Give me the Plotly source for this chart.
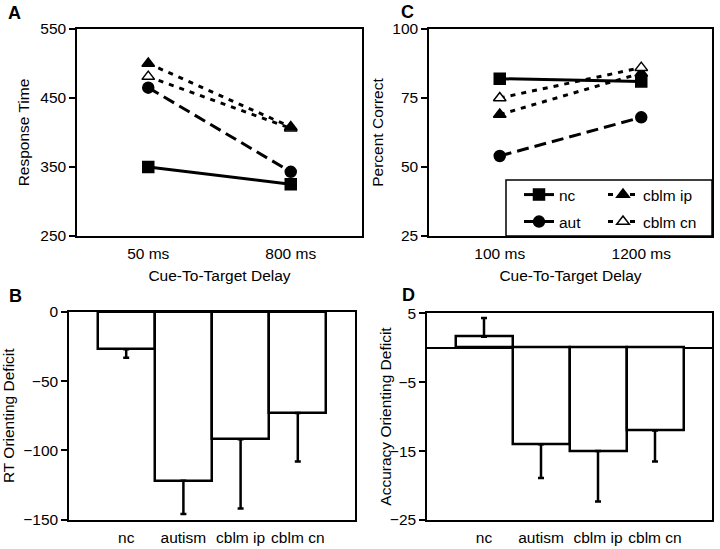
import plotly.graph_objects as go

W, H = 720, 549

# ---------------- data ----------------
# Panel A: response time by cue-to-target delay
delays_a = ["50 ms", "800 ms"]
rt_nc = [350, 325]
rt_aut = [465, 343]
rt_ip = [500, 408]
rt_cn = [481, 406]
rt_ticks = [250, 350, 450, 550]

# Panel C: percent correct by cue-to-target delay
delays_c = ["100 ms", "1200 ms"]
pc_nc = [82, 81]
pc_aut = [54, 68]
pc_ip = [69, 84]
pc_cn = [75, 86]
pc_ticks = [25, 50, 75, 100]

# Panels B and D: orienting deficits
groups = ["nc", "autism", "cblm ip", "cblm cn"]
rt_deficit = [-27, -122, -92, -73]
rt_err = [6, 24, 50, 35]
rt_def_ticks = [-150, -100, -50, 0]
acc_deficit = [1.6, -14, -15, -12]
acc_err = [2.7, 4.9, 7.3, 4.5]
acc_def_ticks = [-25, -15, -5, 5]

# ---------------- styles ----------------
FONT = "Liberation Sans, Arial, sans-serif"
LW = 3
MS = 11
styles = {
    "nc": dict(dash="solid", symbol="square", mcolor="black"),
    "aut": dict(dash="12px,6px", symbol="circle", mcolor="black"),
    "cblm ip": dict(dash="5px,6px", symbol="triangle-up", mcolor="black"),
    "cblm cn": dict(dash="5px,6px", symbol="triangle-up", mcolor="white"),
}

def px_x(p):
    return p / W

def px_y(p):
    return 1 - p / H

fig = go.Figure()

def line_trace(name, x, y, xa, ya, legend=None):
    s = styles[name]
    return go.Scatter(
        x=x, y=y, mode="lines+markers", name=name,
        xaxis=xa, yaxis=ya,
        line=dict(color="black", width=LW, dash=s["dash"]),
        marker=dict(symbol=s["symbol"], size=MS, color=s["mcolor"],
                    line=dict(color="black", width=1.5)),
        showlegend=legend is not None,
        legend=legend if legend else "legend",
        hoverinfo="skip",
    )

# Panel A (cn drawn before ip so the filled triangle is on top)
fig.add_trace(line_trace("nc", delays_a, rt_nc, "x", "y"))
fig.add_trace(line_trace("aut", delays_a, rt_aut, "x", "y"))
fig.add_trace(line_trace("cblm cn", delays_a, rt_cn, "x", "y"))
fig.add_trace(line_trace("cblm ip", delays_a, rt_ip, "x", "y"))

# Panel C
fig.add_trace(line_trace("nc", delays_c, pc_nc, "x2", "y2", "legend"))
fig.add_trace(line_trace("aut", delays_c, pc_aut, "x2", "y2", "legend2"))
fig.add_trace(line_trace("cblm ip", delays_c, pc_ip, "x2", "y2", "legend3"))
fig.add_trace(line_trace("cblm cn", delays_c, pc_cn, "x2", "y2", "legend4"))

def bar_trace(values, errs, xa, ya):
    up = [e if v > 0 else 0 for v, e in zip(values, errs)]
    down = [e if v < 0 else 0 for v, e in zip(values, errs)]
    return go.Bar(
        x=groups, y=values, xaxis=xa, yaxis=ya, width=1,
        marker=dict(color="white", line=dict(color="black", width=2.5)),
        error_y=dict(type="data", symmetric=False, array=up, arrayminus=down,
                     color="black", thickness=2.5, width=3),
        showlegend=False, hoverinfo="skip",
    )

fig.add_trace(bar_trace(rt_deficit, rt_err, "x3", "y3"))
fig.add_trace(bar_trace(acc_deficit, acc_err, "x4", "y4"))

tickfont = dict(family=FONT, size=15.5, color="black")
titlefont = dict(family=FONT, size=15.5, color="black")

def xaxis(dom, anchor, title=None, rng=(-0.5, 1.5)):
    d = dict(domain=dom, anchor=anchor, range=list(rng), type="category",
             showline=True, mirror=True, linecolor="black", linewidth=1.5,
             ticks="", showgrid=False, zeroline=False, tickfont=tickfont,
             ticklabelstandoff=3, fixedrange=True, automargin=False)
    if title:
        d["title"] = dict(text=title, font=titlefont, standoff=9)
    return d

def yaxis(dom, anchor, title, rng, ticks, standoff):
    d = dict(domain=dom, anchor=anchor, range=list(rng), tickvals=ticks,
             showline=True, mirror=True, linecolor="black", linewidth=1.5,
             ticks="outside", ticklen=6, tickwidth=1.5, tickcolor="black",
             showgrid=False, zeroline=False, tickfont=tickfont,
             fixedrange=True, automargin=False)
    if title:
        d["title"] = dict(text=title, font=titlefont, standoff=standoff)
    return d

dom_ya = [px_y(236), px_y(29)]
dom_yb = [px_y(519.5), px_y(312)]
dom_yd = [px_y(520), px_y(313.3)]

ax = {}
ax["xaxis"] = xaxis([px_x(77), px_x(362)], "y", "Cue-To-Target Delay")
ax["yaxis"] = yaxis(dom_ya, "x", "Response Time", (250, 550), rt_ticks, 7)
ax["xaxis2"] = xaxis([px_x(429), px_x(712)], "y2", "Cue-To-Target Delay")
ax["yaxis2"] = yaxis(dom_ya, "x2", "Percent Correct", (25, 100), pc_ticks, 5)
ax["xaxis3"] = xaxis([px_x(69), px_x(355)], "y3", None, (-1, 4))
ax["yaxis3"] = yaxis(dom_yb, "x3", "RT Orienting Deficit", (-150, 0), rt_def_ticks, 5)
ax["xaxis4"] = xaxis([px_x(427), px_x(712)], "y4", None, (-1, 4))
ax["yaxis4"] = yaxis(dom_yd, "x4", None, (-25, 5), acc_def_ticks, 0)
ax["yaxis4"]["zeroline"] = True
ax["yaxis4"]["zerolinecolor"] = "black"
ax["yaxis4"]["zerolinewidth"] = 1.5

legend_common = dict(bgcolor="rgba(0,0,0,0)", borderwidth=0,
                     font=dict(family=FONT, size=15.5, color="black"),
                     xanchor="left", yanchor="middle", orientation="v")
legends = dict(
    legend=dict(x=px_x(519), y=px_y(195), **legend_common),
    legend2=dict(x=px_x(519), y=px_y(222), **legend_common),
    legend3=dict(x=px_x(603), y=px_y(195), **legend_common),
    legend4=dict(x=px_x(603), y=px_y(222), **legend_common),
)

letters = [("A", 14, 13), ("C", 407, 12), ("B", 15, 296), ("D", 408, 295)]
annotations = [
    dict(text=f"<b>{t}</b>", x=px_x(xx), y=px_y(yy), xref="paper", yref="paper",
         showarrow=False, xanchor="center", yanchor="middle",
         font=dict(family=FONT, size=18, color="black"))
    for t, xx, yy in letters
]
# y-axis title of panel D, placed close to its tick labels as in the original
annotations.append(dict(
    text="Accuracy Orienting Deficit", textangle=-90,
    x=px_x(386), y=(dom_yd[0] + dom_yd[1]) / 2, xref="paper", yref="paper",
    showarrow=False, xanchor="center", yanchor="middle", font=titlefont))

shapes = [dict(type="rect", xref="paper", yref="paper",
               x0=px_x(506), x1=px_x(712), y0=px_y(236), y1=px_y(180),
               line=dict(color="black", width=1.5), fillcolor="white", layer="above")]

fig.update_layout(
    template="none",
    width=W, height=H, margin=dict(l=0, r=0, t=0, b=0),
    paper_bgcolor="white", plot_bgcolor="white",
    font=dict(family=FONT, color="black"),
    bargap=0, annotations=annotations, shapes=shapes,
    **ax, **legends,
)

fig.write_html("out.html", config={"displayModeBar": False},
               post_script="document.body.style.margin='0';document.body.style.overflow='hidden';")
